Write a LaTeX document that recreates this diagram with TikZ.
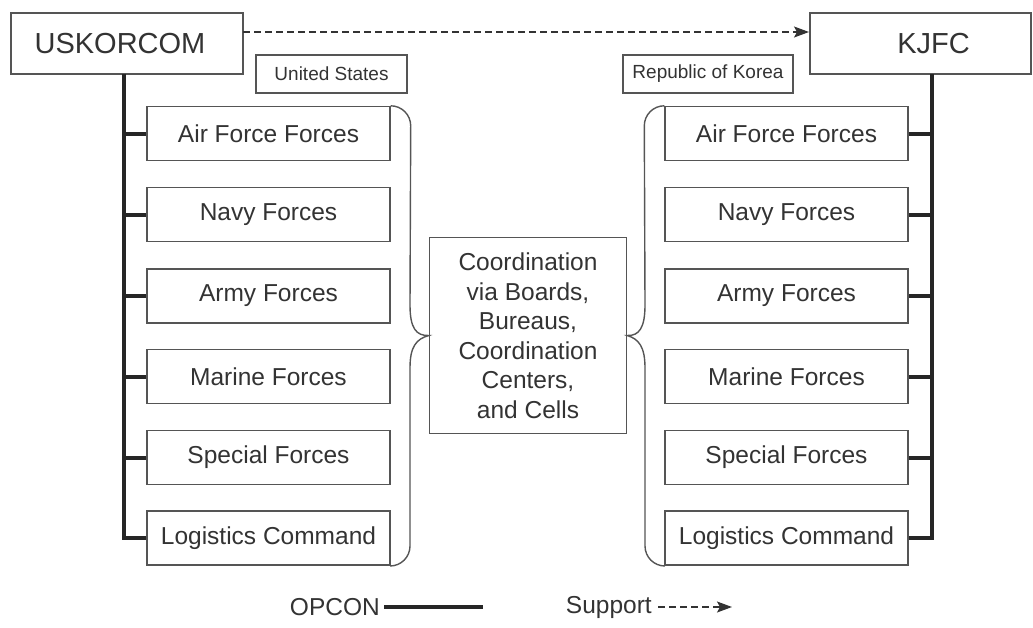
\documentclass[tikz,border=0pt]{standalone}
\usepackage{fontspec}
\setmainfont{Liberation Sans}
\usetikzlibrary{arrows.meta}
\definecolor{txt}{HTML}{333333}
\definecolor{edge}{HTML}{555555}
\tikzset{
  unitbox/.style={draw=edge, line width=1.4pt, minimum width=243pt, minimum height=54pt, inner sep=0pt,
    text=txt, font=\fontsize{24.5}{29}\selectfont},
  cmdbox/.style={draw=edge, line width=1.4pt, minimum height=61pt, inner sep=0pt, text=txt,
    font=\fontsize{29}{34}\selectfont},
  tagbox/.style={draw=edge, line width=1.4pt, minimum height=38pt, inner sep=0pt, text=txt,
    font=\fontsize{19}{22}\selectfont},
  opcon/.style={line width=4pt, black!85},
  support/.style={line width=1.3pt, txt, dash pattern=on 7pt off 4pt,
    -{Stealth[length=15pt,width=11pt,inset=3pt]}},
  bracelook/.style={draw=edge, line width=1.4pt},
  legend/.style={text=txt, font=\fontsize{24.5}{29}\selectfont, inner sep=0pt}
}
\begin{document}
\begin{tikzpicture}[x=1pt,y=-1pt]
\useasboundingbox (0,0) rectangle (1033,627);
% top commands
\node[cmdbox, minimum width=232pt] (us) at (127,43.5) {USKORCOM\hspace*{14pt}};
\node[cmdbox, minimum width=221pt] (kjfc) at (920.5,43.5) {\hspace*{26pt}KJFC};
\node[tagbox, minimum width=151pt] (ustag) at (331.5,74) {United States};
\node[tagbox, minimum width=170pt] (roktag) at (708,74) {Republic of Korea};
\coordinate (supA) at (243,32);
\coordinate (supB) at (809,32);
\draw[support] (supA) -- (supB);
% left and right columns
\foreach \n/\t/\y in {1/Air Force Forces/133.5, 2/Navy Forces/214.5, 3/Army Forces/296, 4/Marine Forces/376.5, 5/Special Forces/457.5, 6/Logistics Command/538}{
  \node[unitbox] (L\n) at (268.5,\y) {\t};
  \node[unitbox] (R\n) at (786.5,\y) {\t};
}
% center
\node[draw=edge, line width=1.4pt, minimum width=197pt, minimum height=196pt, inner sep=0pt, text=txt,
  align=center, font=\fontsize{24.5}{29.5}\selectfont] (coord) at (528,335.5)
  {Coordination\\via Boards,\\Bureaus,\\Coordination\\Centers,\\and Cells};
% OPCON bars
\coordinate (lb) at (124,74);
\coordinate (rb) at (932,74);
\draw[opcon] (lb) -- (lb |- L6.west) -- (L6.west);
\draw[opcon] (rb) -- (rb |- R6.east) -- (R6.east);
\foreach \n in {1,...,5}{
  \draw[opcon] (lb |- L\n.west) -- (L\n.west);
  \draw[opcon] (rb |- R\n.east) -- (R\n.east);
}
% braces
\draw[bracelook] (L1.north east) arc[start angle=90,end angle=0,radius=20pt]
  -- (410,305) .. controls (410,328) and (416,336) .. (coord.west)
  .. controls (416,339) and (410,347) .. (410,368)
  -- (410,546) arc[start angle=0,end angle=-90,radius=20pt];
\draw[bracelook] (R1.north west) arc[start angle=90,end angle=180,radius=20pt]
  -- (645,305) .. controls (645,328) and (639,336) .. (coord.east)
  .. controls (639,339) and (645,347) .. (645,368)
  -- (645,546) arc[start angle=180,end angle=270,radius=20pt];
% legend
\node[legend, anchor=east] (opconlbl) at (380,607) {OPCON};
\coordinate (opA) at (384,607);
\coordinate (opB) at (483,607);
\draw[opcon] (opA) -- (opB);
\node[legend, anchor=east] (suplbl) at (652,607) {Support};
\coordinate (spA) at (658,607);
\coordinate (spB) at (732,607);
\draw[support] (spA) -- (spB);
\end{tikzpicture}
\end{document}
